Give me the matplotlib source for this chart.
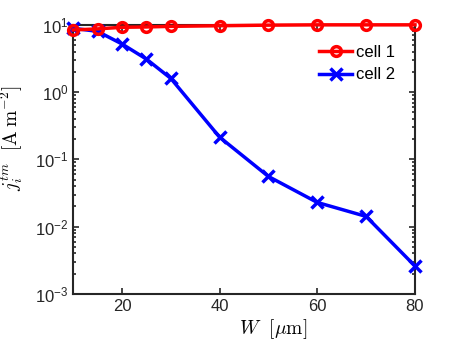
import matplotlib.pyplot as plt
from matplotlib.ticker import LogLocator, NullFormatter

W = [10, 15, 20, 25, 30, 40, 50, 60, 70, 80]
cell1 = [8.4, 8.7, 9.2, 9.3, 9.5, 9.7, 9.9, 10.0, 10.0, 10.0]
cell2 = [8.9, 8.0, 5.2, 3.1, 1.6, 0.214, 0.0557, 0.0229, 0.0142, 0.0026]

plt.rcParams['font.family'] = ['Liberation Sans', 'DejaVu Sans']
plt.rcParams['mathtext.fontset'] = 'cm'

fig = plt.figure(figsize=(4.57, 3.45), dpi=100)
ax = fig.add_axes([0.16, 0.148, 0.748, 0.78])

ax.plot(W, cell1, color='red', lw=2.5, marker='o', ms=7, mfc='none', mew=2.5,
        label='cell 1', clip_on=False, zorder=4)
ax.plot(W, cell2, color='blue', lw=2.5, marker='x', ms=8, mew=2.5,
        label='cell 2', clip_on=False, zorder=3)

ax.set_yscale('log')
ax.set_xlim(10, 80)
ax.set_ylim(1e-3, 10)
ax.set_xticks([20, 40, 60, 80])
ax.yaxis.set_minor_locator(LogLocator(base=10, subs=range(2, 10), numticks=20))
ax.yaxis.set_minor_formatter(NullFormatter())

ax.set_xlabel(r'$W\ \ [\mathrm{\mu m}]$', fontsize=14)
ax.set_ylabel(r'$j_i^{tm}\ \ [\mathrm{A\;m^{-2}}]$', fontsize=14)
ax.xaxis.set_label_coords(0.585, -0.085)
ax.yaxis.set_label_coords(-0.14, 0.58)

ax.tick_params(which='both', direction='in', top=True, right=True, labelsize=12, width=1.2, colors='#262626')
ax.tick_params(which='major', length=4)
ax.tick_params(which='minor', length=2)
for side in ['bottom', 'left', 'top', 'right']:
    ax.spines[side].set_linewidth(1.5)
    ax.spines[side].set_color('#262626')

ax.legend(loc='upper right', frameon=False, fontsize=12, handlelength=2.0,
          handletextpad=0.2, borderaxespad=0.8, labelspacing=0.45)

plt.savefig('out.png', dpi=100)
